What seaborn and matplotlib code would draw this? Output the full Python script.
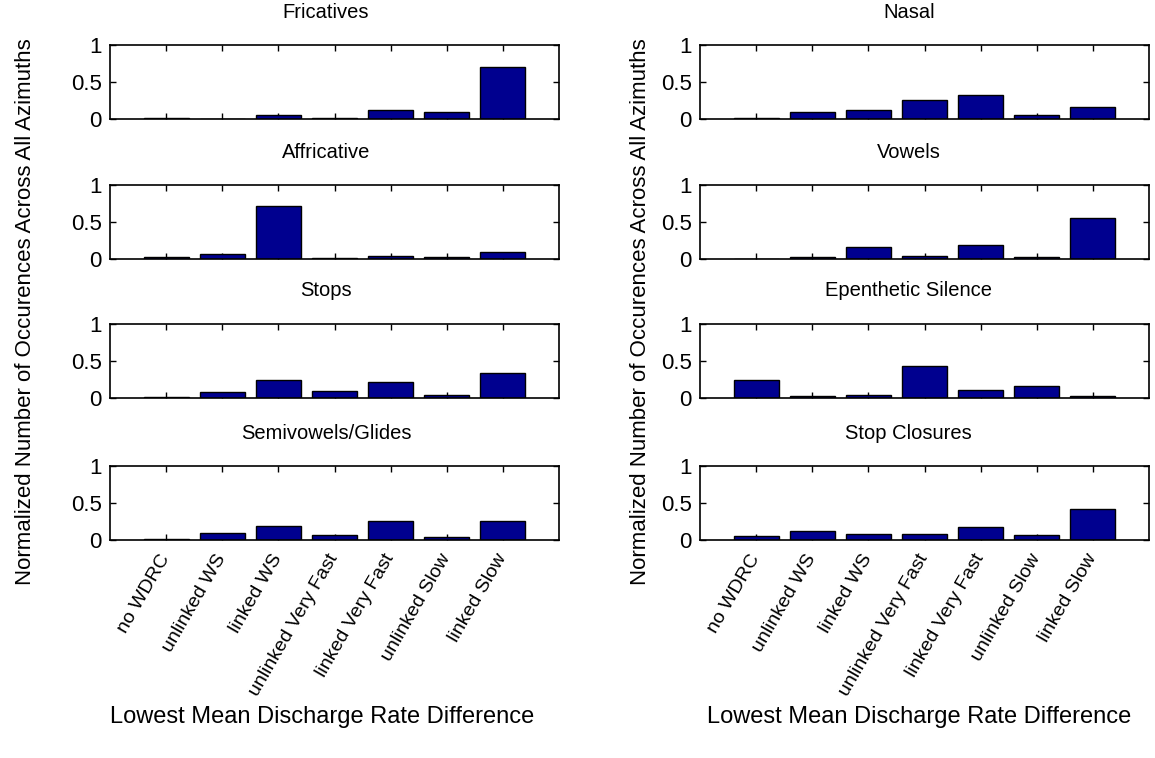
import matplotlib
matplotlib.use("Agg")
import matplotlib.pyplot as plt
import seaborn as sns

sns.set_style("white")
plt.rcParams["font.family"] = ["Liberation Sans", "DejaVu Sans"]
plt.rcParams["text.color"] = "black"
plt.rcParams["axes.labelcolor"] = "black"

# Compression settings shared by every panel
categories = ["no WDRC", "unlinked WS", "linked WS", "unlinked Very Fast",
              "linked Very Fast", "unlinked Slow", "linked Slow"]

# Normalized occurrence per phoneme class
fricatives = [0.01, 0.0, 0.05, 0.02, 0.125, 0.10, 0.70]
affricative = [0.027, 0.063, 0.713, 0.013, 0.045, 0.027, 0.09]
stops = [0.014, 0.082, 0.245, 0.10, 0.214, 0.045, 0.336]
semivowels_glides = [0.014, 0.095, 0.194, 0.068, 0.252, 0.04, 0.261]
nasal = [0.018, 0.09, 0.126, 0.251, 0.327, 0.05, 0.157]
vowels = [0.005, 0.03, 0.163, 0.036, 0.186, 0.023, 0.557]
epenthetic_silence = [0.243, 0.027, 0.036, 0.437, 0.108, 0.167, 0.03]
stop_closures = [0.054, 0.121, 0.076, 0.085, 0.18, 0.072, 0.42]

left_titles = ["Fricatives", "Affricative", "Stops", "Semivowels/Glides"]
left_values = [fricatives, affricative, stops, semivowels_glides]
right_titles = ["Nasal", "Vowels", "Epenthetic Silence", "Stop Closures"]
right_values = [nasal, vowels, epenthetic_silence, stop_closures]

y_ticks = [0, 0.5, 1]
y_tick_labels = ["0", "0.5", "1"]
y_label = "Normalized Number of Occurences Across All Azimuths"
x_label = "Lowest Mean Discharge Rate Difference"

W, H = 1155, 758
fig = plt.figure(figsize=(W / 100, H / 100), dpi=100)

bar_color = "#00008f"
col_left = [110, 700]
col_width = 449
row_bottom = [119, 259, 398, 540]
row_height = 74


def draw_panel(ax, title, values, bottom_row, title_x):
    sns.barplot(x=categories, y=values, ax=ax, color=bar_color,
                saturation=1, edgecolor="black", linewidth=1.0, width=0.8)
    ax.set_xlim(-1, 7)
    ax.set_ylim(0, 1)
    ax.set_yticks(y_ticks)
    ax.set_yticklabels(y_tick_labels, fontsize=16)
    ax.set_xticks(range(len(categories)))
    ax.tick_params(direction="in", length=4, width=1.0, top=True, right=True,
                   left=True, bottom=True, colors="black", labelcolor="black")
    ax.tick_params(axis="y", pad=6)
    ax.tick_params(axis="x", pad=11)
    if bottom_row:
        ax.set_xticklabels(categories, rotation=60, ha="right", va="center",
                           rotation_mode="anchor", fontsize=14)
    else:
        ax.set_xticklabels([])
    ax.set_xlabel("")
    ax.set_ylabel("")
    for sp in ax.spines.values():
        sp.set_visible(True)
        sp.set_color("black")
        sp.set_linewidth(1.2)
    ax.text(title_x, 1 + 33 / row_height, title, transform=ax.transAxes,
            ha="center", va="center", fontsize=14.5, color="black")


for c, (titles, vals, tx) in enumerate([(left_titles, left_values, 0.481),
                                        (right_titles, right_values, 0.465)]):
    for r in range(4):
        left = col_left[c] / W
        bottom = 1 - row_bottom[r] / H
        ax = fig.add_axes([left, bottom, col_width / W, row_height / H])
        draw_panel(ax, titles[r], vals[r], r == 3, tx)

# Shared axis labels for each column
fig.text(26 / W, 1 - 312 / H, y_label, rotation=90, ha="center", va="center",
         fontsize=16)
fig.text(641 / W, 1 - 312 / H, y_label, rotation=90, ha="center", va="center",
         fontsize=16)
fig.text(322 / W, 1 - 717 / H, x_label, ha="center", va="center", fontsize=17)
fig.text(919 / W, 1 - 717 / H, x_label, ha="center", va="center", fontsize=17)

fig.savefig("out.png", dpi=100, facecolor="white")
